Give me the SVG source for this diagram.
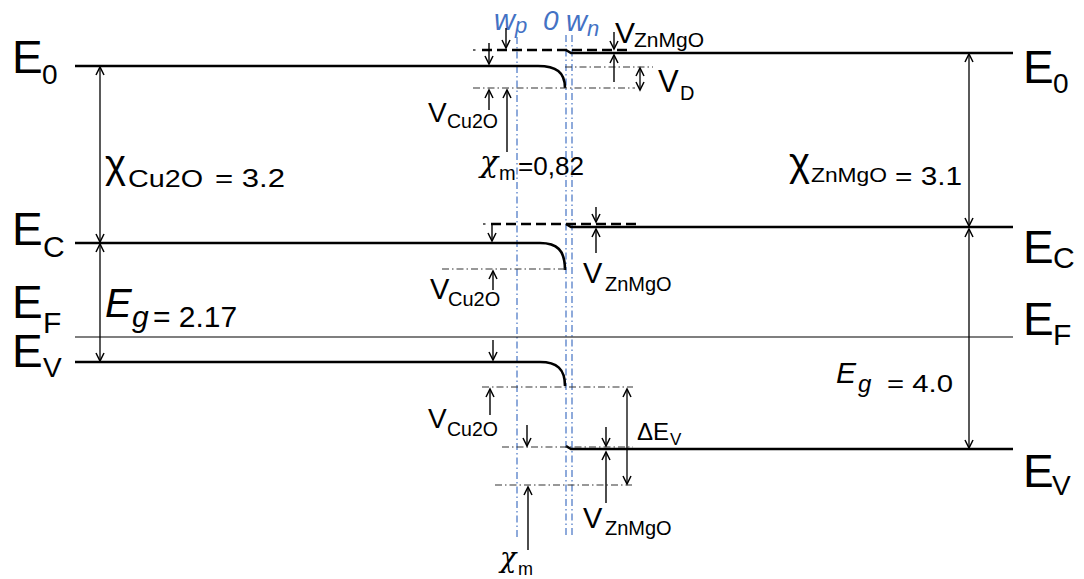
<svg xmlns="http://www.w3.org/2000/svg" width="1084" height="579" viewBox="0 0 1084 579">
<defs>
<style>
text{font-family:"Liberation Sans",Arial,sans-serif;fill:#000}
.lvl{fill:none;stroke:#000;stroke-width:2.6}
.thin{fill:none;stroke:#000;stroke-width:1.2}
.dash{fill:none;stroke:#000;stroke-width:2.4;stroke-dasharray:10 5}
.dd{fill:none;stroke:#333;stroke-width:1.2;stroke-dasharray:7 3 1.5 3}
.blue{fill:none;stroke:#4472C4;stroke-width:1.2;stroke-dasharray:7 3 1.5 3}
.arr{fill:none;stroke:#000;stroke-width:1.4;marker-end:url(#ah)}
.arr2{fill:none;stroke:#000;stroke-width:1.3;marker-start:url(#ah);marker-end:url(#ah)}
.bl{fill:#4472C4;font-style:italic}
.chi{font-family:"DejaVu Serif","Liberation Serif",serif;font-style:italic}
</style>
<marker id="ah" viewBox="-10 -6 12 12" refX="0" refY="0" markerWidth="12" markerHeight="12" markerUnits="userSpaceOnUse" orient="auto-start-reverse">
<path d="M-8,-4 L0,0 L-8,4" fill="none" stroke="#000" stroke-width="1.5"/>
</marker>
</defs>
<rect width="1084" height="579" fill="#fff"/>

<g id="guides">
<path class="blue" d="M517,37 V537"/>
<path class="blue" d="M566,35 V537"/>
<path class="blue" d="M572,35 V537"/>
<text class="bl" x="494" y="30" font-size="29">w</text>
<text class="bl" x="515" y="33" font-size="22">p</text>
<text class="bl" x="543" y="30" font-size="28">0</text>
<text class="bl" x="566" y="31" font-size="29">w</text>
<text class="bl" x="587" y="36" font-size="22">n</text>
</g>

<g id="left-E0">
<path class="lvl" d="M75,66 H538 C556,66 565,72 565,88"/>
<text x="12" y="73" font-size="46">E</text><text x="42" y="84" font-size="28">0</text>
</g>
<g id="left-EC">
<path class="lvl" d="M75,243 H540 C557,243 565,250 565,270"/>
<text x="12" y="245" font-size="46">E</text><text x="43" y="257" font-size="30">C</text>
</g>
<g id="EF">
<path class="thin" d="M75,337 H1013"/>
<text x="12" y="318" font-size="46">E</text><text x="43" y="333" font-size="30">F</text>
<text x="1023" y="335" font-size="46">E</text><text x="1053" y="345" font-size="30">F</text>
</g>
<g id="left-EV">
<path class="lvl" d="M75,362 H540 C557,362 565,369 565,386"/>
<text x="12" y="367" font-size="46">E</text><text x="43" y="377" font-size="28">V</text>
</g>

<g id="right-E0">
<path class="lvl" d="M566,50 L571,53 H1013"/>
<text x="1023" y="83" font-size="46">E</text><text x="1053" y="93" font-size="28">0</text>
</g>
<g id="right-EC">
<path class="lvl" d="M566,224 L571,227 H1013"/>
<text x="1023" y="263" font-size="46">E</text><text x="1053" y="268" font-size="30">C</text>
</g>
<g id="right-EV">
<path class="lvl" d="M566,446 L571,449 H1013"/>
<text x="1023" y="487" font-size="46">E</text><text x="1052" y="495" font-size="28">V</text>
</g>

<g id="reference-lines">
<path class="thin" d="M473,50 h2.5"/>
<path class="dash" d="M482,50 H627"/>
<path class="thin" d="M483,224 h2.5"/>
<path class="dash" d="M491,224 H637"/>
<path class="dd" d="M565,67 H653"/>
<path class="dd" d="M473,88 H635"/>
<path class="dd" d="M442,269 H565"/>
<path class="dd" d="M482,387 H633"/>
<path class="dd" d="M502,447 H633"/>
<path class="dd" d="M495,485 H632"/>
</g>

<g id="connectors">
<path class="arr2" d="M100,67 V242"/>
<path class="arr2" d="M100,244 V361"/>
<path class="arr2" d="M969,54 V226"/>
<path class="arr2" d="M969,229 V448"/>
<path class="arr" d="M489,43 V64"/>
<path class="arr" d="M506,28 V48"/>
<path class="arr" d="M614,32 V49"/>
<path class="arr" d="M614,82 V55"/>
<path class="arr2" d="M640,68 V90"/>
<path class="arr" d="M489,110 V90"/>
<path class="arr" d="M507,152 V90"/>
<path class="arr" d="M492,224 V241"/>
<path class="arr" d="M493,290 V271"/>
<path class="arr" d="M596,207 V222"/>
<path class="arr" d="M596,253 V229"/>
<path class="arr" d="M493,340 V360"/>
<path class="arr" d="M490,415 V389"/>
<path class="arr" d="M527,425 V446"/>
<path class="arr" d="M606,427 V446"/>
<path class="arr" d="M606,503 V452"/>
<path class="arr2" d="M627,389 V484"/>
<path class="arr" d="M528,550 V487"/>
</g>

<g id="labels">
<text x="105" y="178" font-size="40">χ</text>
<text x="128" y="187" font-size="23" textLength="75" lengthAdjust="spacingAndGlyphs">Cu2O</text>
<text x="215" y="187" font-size="26" textLength="70" lengthAdjust="spacingAndGlyphs">= 3.2</text>

<text x="789" y="176" font-size="40">χ</text>
<text x="811" y="182" font-size="21" textLength="76" lengthAdjust="spacingAndGlyphs">ZnMgO</text>
<text x="895" y="185" font-size="26" textLength="67" lengthAdjust="spacingAndGlyphs">= 3.1</text>

<text x="105" y="317" font-size="40" font-style="italic">E</text>
<text x="132" y="327" font-size="30" font-style="italic">g</text>
<text x="153" y="327" font-size="30">= 2.17</text>

<text x="836" y="383" font-size="30" font-style="italic">E</text>
<text x="858" y="392" font-size="24" font-style="italic">g</text>
<text x="887" y="392" font-size="24" textLength="66" lengthAdjust="spacingAndGlyphs">= 4.0</text>

<text x="615" y="43" font-size="30">V</text><text x="634" y="47" font-size="21">ZnMgO</text>
<text x="658" y="92" font-size="31">V</text><text x="680" y="100" font-size="20">D</text>
<text x="428" y="122" font-size="28">V</text><text x="447" y="128" font-size="19.5">Cu2O</text>
<text x="430" y="299" font-size="29">V</text><text x="448" y="306" font-size="20">Cu2O</text>
<text x="428" y="428" font-size="28">V</text><text x="447" y="436" font-size="19.5">Cu2O</text>
<text x="583" y="283" font-size="29">V</text><text x="605" y="291" font-size="20">ZnMgO</text>
<text x="583" y="528" font-size="29">V</text><text x="605" y="535" font-size="20">ZnMgO</text>
<text x="637" y="440" font-size="24">ΔE</text><text x="670" y="445" font-size="17">V</text>

<text class="chi" x="480" y="172" font-size="30">χ</text>
<text x="499" y="180" font-size="20">m</text>
<text x="518" y="175" font-size="26" textLength="66" lengthAdjust="spacingAndGlyphs">=0,82</text>
<text class="chi" x="500" y="567" font-size="27">χ</text>
<text x="518" y="575" font-size="18">m</text>
</g>
</svg>
